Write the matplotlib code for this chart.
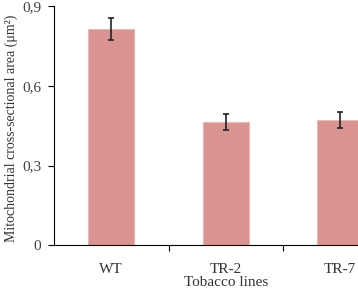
import numpy as np
import matplotlib.pyplot as plt

lines = ["WT", "TR-2", "TR-7"]
area = [0.813, 0.462, 0.472]
err = [0.040, 0.030, 0.030]

plt.rcParams['font.family'] = ['Liberation Serif', 'DejaVu Serif']

fig = plt.figure(figsize=(3.58, 2.89), dpi=100)
# axes runs off the right edge like the cropped original
ax = fig.add_axes([54/358, (289-245.3)/289, 343.5/358, 239.3/289])

x = np.arange(len(lines))
ax.bar(x, area, width=0.4, color='#d99492', edgecolor='#e8b8b6', linewidth=0.8,
       yerr=err, capsize=2.2, error_kw=dict(ecolor='#222222', elinewidth=1.2, capthick=1.2))

ax.set_xlim(-0.5, 2.5)
ax.set_ylim(0, 0.9)
ax.set_yticks([0, 0.3, 0.6, 0.9])
ax.set_yticklabels(["0", "0,3", "0,6", "0,9"], fontsize=11, color='#404040')
ax.set_xticks([0.5, 1.5])
ax.set_xticklabels([])
ax.set_xticks(x, minor=True)
ax.set_xticklabels(lines, minor=True, fontsize=11, color='#333333')
ax.tick_params(axis='x', which='minor', length=0, pad=13)
ax.tick_params(axis='x', which='major', length=4, direction='out')
ax.tick_params(axis='y', length=4, direction='out', pad=5)
for s in ['top', 'right']:
    ax.spines[s].set_visible(False)
ax.set_xlabel("Tobacco lines", fontsize=11, labelpad=0, color='#333333')
ax.set_ylabel("Mitochondrial cross-sectional area (μm²)", fontsize=10,
              color='#333333')
ax.yaxis.set_label_coords(-36/343.5, 0.49)

fig.savefig("out.png", dpi=100)
